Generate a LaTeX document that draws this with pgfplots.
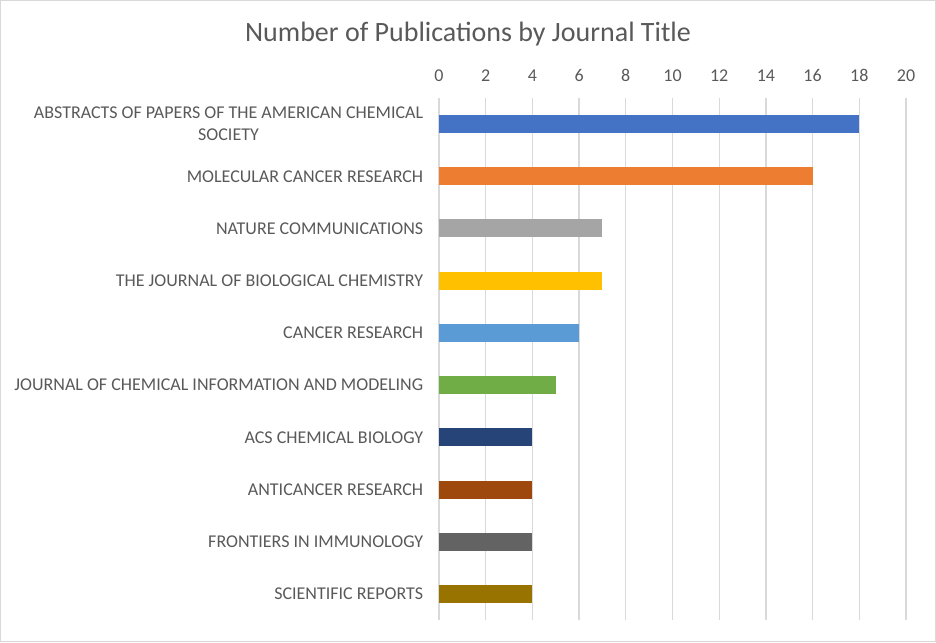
\documentclass[border=0pt]{standalone}
\usepackage{pgfplots}
\pgfplotsset{compat=1.18}
\usepackage{fontspec}
\setmainfont{Carlito}
\definecolor{txt}{HTML}{595959}
\definecolor{gridc}{HTML}{D9D9D9}
\definecolor{c1}{HTML}{4472C4}
\definecolor{c2}{HTML}{ED7D31}
\definecolor{c3}{HTML}{A5A5A5}
\definecolor{c4}{HTML}{FFC000}
\definecolor{c5}{HTML}{5B9BD5}
\definecolor{c6}{HTML}{70AD47}
\definecolor{c7}{HTML}{264478}
\definecolor{c8}{HTML}{9E480E}
\definecolor{c9}{HTML}{636363}
\definecolor{c10}{HTML}{997300}
\begin{document}
\begin{tikzpicture}[x=1pt,y=1pt]
  % page frame, 1pt = 1px of the reference
  \draw[gridc, line width=1pt] (0.5,0.5) rectangle (935.5,641.5);
  \node[txt, font=\fontsize{28}{32}\selectfont] at (468,608) {Number of Publications by Journal Title};
  \begin{axis}[
    at={(439pt,22pt)}, anchor=south west,
    width=467pt, height=522pt, scale only axis,
    xmin=0, xmax=20, ymin=-0.5, ymax=9.5, y dir=reverse,
    xtick={0,2,...,20}, ytick={0,...,9},
    yticklabels={{ABSTRACTS OF PAPERS OF THE AMERICAN CHEMICAL\\SOCIETY},
      MOLECULAR CANCER RESEARCH, NATURE COMMUNICATIONS,
      THE JOURNAL OF BIOLOGICAL CHEMISTRY, CANCER RESEARCH,
      JOURNAL OF CHEMICAL INFORMATION AND MODELING, ACS CHEMICAL BIOLOGY,
      ANTICANCER RESEARCH, FRONTIERS IN IMMUNOLOGY, SCIENTIFIC REPORTS},
    xticklabel pos=top,
    axis line style={draw=none}, major tick style={draw=none},
    xmajorgrids, grid style={gridc, line width=1.3pt},
    /pgf/number format/assume math mode=true,
    xticklabel style={txt, font=\fontsize{18}{21}\selectfont, yshift=13pt},
    yticklabel style={txt, font=\fontsize{18}{22}\selectfont, align=center, xshift=-8pt},
    xbar, bar width=18pt, bar shift=0pt,
    every axis plot/.append style={draw=none},
  ]
    \addplot[fill=c1] coordinates {(18,0)};
    \addplot[fill=c2] coordinates {(16,1)};
    \addplot[fill=c3] coordinates {(7,2)};
    \addplot[fill=c4] coordinates {(7,3)};
    \addplot[fill=c5] coordinates {(6,4)};
    \addplot[fill=c6] coordinates {(5,5)};
    \addplot[fill=c7] coordinates {(4,6)};
    \addplot[fill=c8] coordinates {(4,7)};
    \addplot[fill=c9] coordinates {(4,8)};
    \addplot[fill=c10] coordinates {(4,9)};
  \end{axis}
\end{tikzpicture}
\end{document}
